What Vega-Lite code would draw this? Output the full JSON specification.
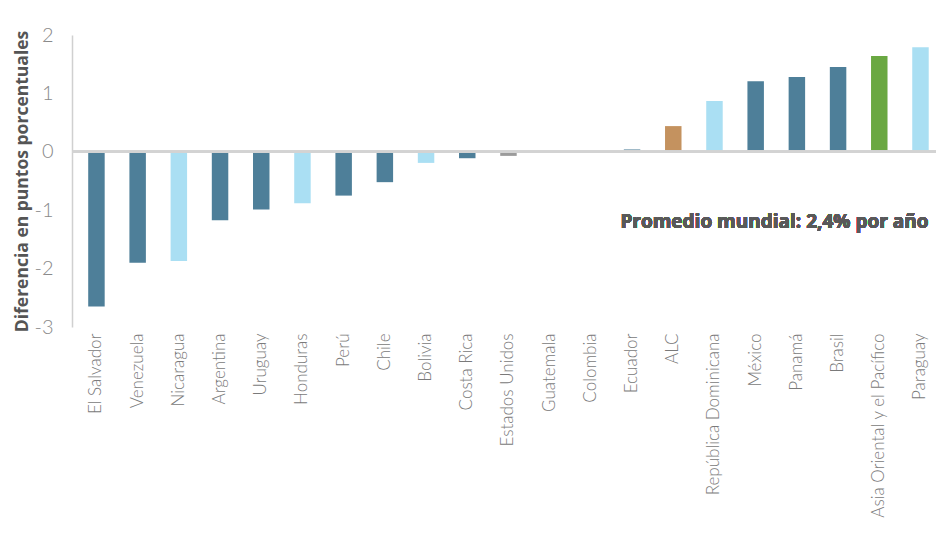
{
  "$schema": "https://vega.github.io/schema/vega-lite/v6.json",
  "autosize": "none",
  "width": 864,
  "height": 292,
  "padding": {"left": 72, "top": 35, "right": 0, "bottom": 213},
  "background": "white",
  "config": {"view": {"stroke": null}, "font": "Lato"},
  "data": {"values": [
    {"pais": "El Salvador", "valor": -2.65, "grupo": "oscuro"},
    {"pais": "Venezuela", "valor": -1.9, "grupo": "oscuro"},
    {"pais": "Nicaragua", "valor": -1.87, "grupo": "claro"},
    {"pais": "Argentina", "valor": -1.17, "grupo": "oscuro"},
    {"pais": "Uruguay", "valor": -0.99, "grupo": "oscuro"},
    {"pais": "Honduras", "valor": -0.88, "grupo": "claro"},
    {"pais": "Perú", "valor": -0.75, "grupo": "oscuro"},
    {"pais": "Chile", "valor": -0.52, "grupo": "oscuro"},
    {"pais": "Bolivia", "valor": -0.19, "grupo": "claro"},
    {"pais": "Costa Rica", "valor": -0.11, "grupo": "oscuro"},
    {"pais": "Estados Unidos", "valor": -0.07, "grupo": "gris"},
    {"pais": "Guatemala", "valor": -0.015, "grupo": "claro"},
    {"pais": "Colombia", "valor": -0.02, "grupo": "oscuro"},
    {"pais": "Ecuador", "valor": 0.04, "grupo": "oscuro"},
    {"pais": "ALC", "valor": 0.44, "grupo": "alc"},
    {"pais": "República Dominicana", "valor": 0.87, "grupo": "claro"},
    {"pais": "México", "valor": 1.21, "grupo": "oscuro"},
    {"pais": "Panamá", "valor": 1.28, "grupo": "oscuro"},
    {"pais": "Brasil", "valor": 1.45, "grupo": "oscuro"},
    {"pais": "Asia Oriental y el Pacífico", "valor": 1.64, "grupo": "asia"},
    {"pais": "Paraguay", "valor": 1.79, "grupo": "claro"}
  ]},
  "encoding": {
    "x": {
      "field": "pais", "type": "nominal", "sort": null,
      "scale": {"paddingInner": 0.6, "paddingOuter": 0.285, "align": 0.69},
      "axis": {
        "title": null, "orient": "bottom", "domain": false, "ticks": false,
        "labelAngle": -90, "labelPadding": 6, "labelFontSize": 17, "labelLimit": 0,
        "labelFontWeight": 300, "labelColor": "#7a7a7a", "labelFont": "Lato"
      }
    }
  },
  "layer": [
    {
      "mark": {"type": "bar"},
      "encoding": {
        "y": {
          "field": "valor", "type": "quantitative",
          "scale": {"domain": [-3, 2], "nice": false},
          "axis": {
            "title": "Diferencia en puntos porcentuales",
            "titleFontSize": 17.5, "titleFontWeight": "bold", "titleColor": "#555555",
            "titleFont": "Open Sans", "titlePadding": 3,
            "values": [-3, -2, -1, 0, 1, 2], "labelExpr": "datum.value + ''",
            "grid": false, "ticks": false,
            "domainColor": "#d0d0d0", "domainWidth": 1.5,
            "labelFontSize": 20, "labelFontWeight": 300, "labelColor": "#8a8a8a",
            "labelPadding": 19, "labelFont": "Lato"
          }
        },
        "color": {
          "field": "grupo", "type": "nominal", "legend": null,
          "scale": {
            "domain": ["oscuro", "claro", "gris", "alc", "asia"],
            "range": ["#4e7f99", "#aadff3", "#9b9b9b", "#c4925f", "#6aa842"]
          }
        }
      }
    },
    {
      "mark": {"type": "rule", "color": "#d3d3d3", "strokeWidth": 2},
      "encoding": {"y": {"datum": 0}, "x": null}
    },
    {
      "mark": {
        "type": "text", "text": "Promedio mundial: 2,4% por año",
        "align": "right", "baseline": "middle", "dx": 8,
        "fontSize": 19, "fontWeight": "bold", "color": "#595959", "font": "Open Sans"
      },
      "encoding": {"x": {"datum": "Paraguay"}, "y": {"datum": -1.2}}
    }
  ]
}
